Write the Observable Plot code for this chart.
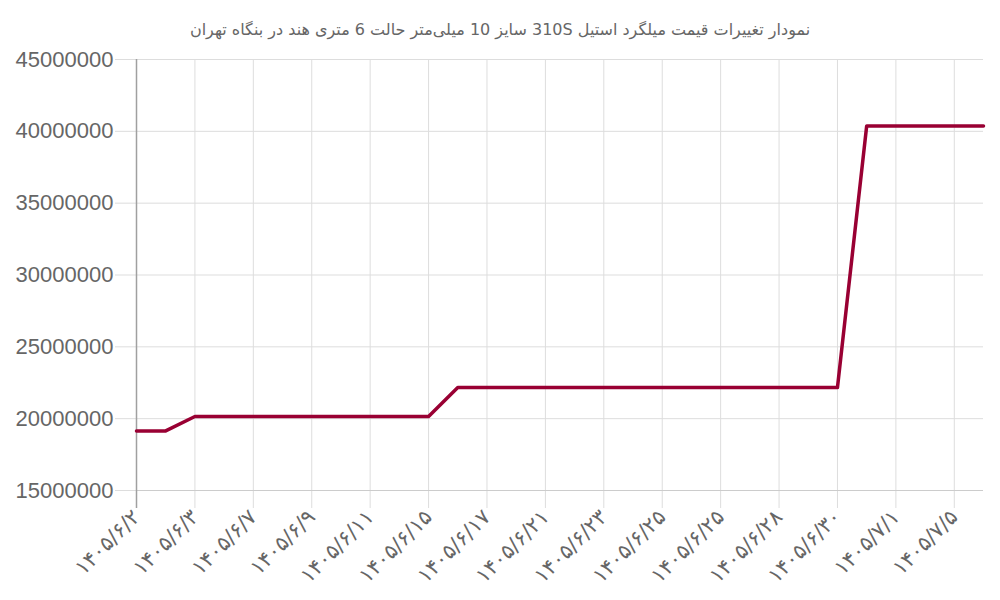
<!DOCTYPE html>
<html>
<head>
<meta charset="utf-8">
<script src="https://cdn.jsdelivr.net/npm/d3@7"></script>
<script src="https://cdn.jsdelivr.net/npm/@observablehq/plot@0.6"></script>
<style>
  html, body { margin: 0; padding: 0; background: #fff; }
  #title { height: 45px; line-height: 60px; text-align: center; font-family: "DejaVu Sans", sans-serif; font-size: 16px; color: #666; direction: rtl; }
  #chart svg { display: block; }
</style>
</head>
<body>
<div id="title" dir="rtl">نمودار تغییرات قیمت میلگرد استیل 310S سایز 10 میلی‌متر حالت 6 متری هند در بنگاه تهران</div>
<div id="chart"></div>
<script>
const tickLabels = ["۱۴۰۵/۶/۲","۱۴۰۵/۶/۳","۱۴۰۵/۶/۷","۱۴۰۵/۶/۹","۱۴۰۵/۶/۱۱","۱۴۰۵/۶/۱۵","۱۴۰۵/۶/۱۷","۱۴۰۵/۶/۲۱","۱۴۰۵/۶/۲۳","۱۴۰۵/۶/۲۵","۱۴۰۵/۶/۲۵","۱۴۰۵/۶/۲۸","۱۴۰۵/۶/۳۰","۱۴۰۵/۷/۱","۱۴۰۵/۷/۵"];
const prices = [
  19150000, 19150000,
  20150000, 20150000, 20150000, 20150000, 20150000, 20150000, 20150000, 20150000, 20150000,
  22170000, 22170000, 22170000, 22170000, 22170000, 22170000, 22170000, 22170000, 22170000,
  22170000, 22170000, 22170000, 22170000, 22170000,
  40370000, 40370000, 40370000, 40370000, 40370000
];
const yTicks = [15000000, 20000000, 25000000, 30000000, 35000000, 40000000, 45000000];

const data = prices.map((v, i) => ({i, v}));
const xTicks = tickLabels.map((_, k) => k * 2);

const chart = Plot.plot({
  width: 1000,
  height: 555,
  marginTop: 14,
  marginBottom: 110,
  marginLeft: 136,
  marginRight: 17,
  x: {type: "linear", domain: [0, prices.length - 1], label: null},
  y: {domain: [15000000, 45000000], label: null},
  marks: [
    Plot.gridY({ticks: yTicks, stroke: "#dddddd", strokeOpacity: 1}),
    Plot.gridX({ticks: xTicks, stroke: "#dddddd", strokeOpacity: 1}),
    Plot.axisY({ticks: yTicks, tickSize: 21, tickPadding: 2, stroke: "#dddddd", tickFormat: () => "", label: null}),
    Plot.axisY({ticks: yTicks, tickSize: 0, tickPadding: 23, fill: "#666", fontSize: 22, fontFamily: "Liberation Sans, Arial, sans-serif", tickFormat: d => String(d), label: null}),
    Plot.axisX({ticks: xTicks, tickSize: 18, stroke: "#dddddd", tickFormat: () => "", label: null}),
    Plot.axisX({ticks: xTicks, tickSize: 0, tickPadding: 23, tickRotate: -45, fill: "#666", fontSize: 21, fontFamily: "DejaVu Sans, sans-serif", tickFormat: i => tickLabels[i / 2], label: null}),
    Plot.ruleY([15000000], {stroke: "#cccccc"}),
    Plot.ruleX([0], {y1: 45000000, y2: 15000000, stroke: "#a0a0a0", strokeWidth: 1.5, insetBottom: -18}),
    Plot.lineY(data, {x: "i", y: "v", stroke: "#990033", strokeWidth: 3.5})
  ]
});
document.getElementById("chart").appendChild(chart);
</script>
</body>
</html>
